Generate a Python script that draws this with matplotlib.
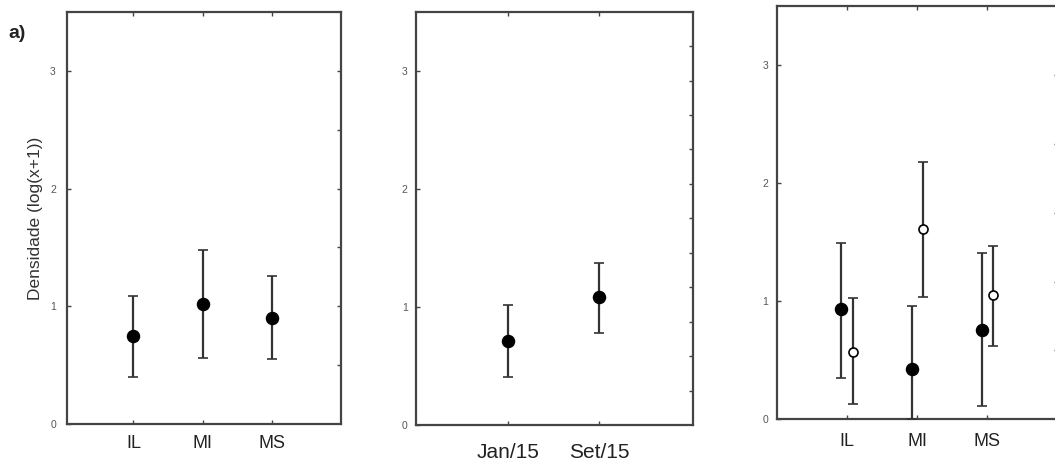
import numpy as np
import matplotlib
matplotlib.use("Agg")
import matplotlib.pyplot as plt

plt.rcParams['font.family'] = ['Liberation Sans', 'DejaVu Sans']

# panel a) - site
sites = ['IL', 'MI', 'MS']
site_mean = [0.75, 1.02, 0.90]
site_low = [0.40, 0.56, 0.55]
site_high = [1.09, 1.48, 1.26]

# panel b) - campaign
months = ['Jan/15', 'Set/15']
month_mean = [0.71, 1.08]
month_low = [0.41, 0.78]
month_high = [1.02, 1.37]

# panel c) - site x campaign (filled = Jan/15, open = Set/15)
jan_mean = [0.93, 0.43, 0.76]
jan_low = [0.35, 0.00, 0.11]
jan_high = [1.49, 0.96, 1.41]
set_mean = [0.57, 1.61, 1.05]
set_low = [0.13, 1.04, 0.62]
set_high = [1.03, 2.18, 1.47]

edge = '#444444'
barc = '#333333'
lab_c = '#555555'


def style_axes(ax, ylab_pad):
    for s in ax.spines.values():
        s.set_linewidth(1.6)
        s.set_color(edge)
    ax.set_ylim(0, 3.5)
    ax.set_yticks([0, 1, 2, 3])
    ax.tick_params(axis='y', direction='in', length=3, width=1, colors=edge,
                   labelcolor=lab_c, labelsize=7.5, pad=ylab_pad, left=True, right=False)
    ax.tick_params(axis='x', direction='in', length=3, width=1, colors=edge,
                   labelcolor='#222222', top=True, bottom=True)


def draw(ax, x, mean, low, high, filled=True, ms=8.5):
    mean = np.array(mean)
    err = [mean - np.array(low), np.array(high) - mean]
    ax.errorbar(x, mean, yerr=err, fmt='o', color=barc, ecolor=barc, elinewidth=1.6,
                capsize=3.5, capthick=1.5, markersize=ms,
                markerfacecolor='black' if filled else 'white',
                markeredgecolor='black', markeredgewidth=1.2, zorder=3)


def right_ticks(ax, n):
    tw = ax.twinx()
    tw.set_ylim(0, n)
    tw.set_yticks(np.arange(1, n))
    tw.tick_params(axis='y', direction='in', length=3, width=1, colors=edge, labelright=False)
    for s in tw.spines.values():
        s.set_visible(False)
    return tw


fig = plt.figure(figsize=(10.55, 4.62), dpi=100)

# panel a)
ax1 = fig.add_axes([0.0635, 0.0823, 0.2597, 0.8918])
x1 = np.arange(1, len(sites) + 1)
draw(ax1, x1, site_mean, site_low, site_high)
ax1.set_xlim(0.04, 4.0)
ax1.set_xticks(x1)
ax1.set_xticklabels(sites, fontsize=13)
style_axes(ax1, 8)
ax1.tick_params(axis='x', pad=8)
ax1.set_ylabel('Densidade (log(x+1))', fontsize=12.5, color='#333333', labelpad=5)
right_ticks(ax1, 7)
fig.text(0.008, 0.918, 'a)', fontsize=14, fontweight='bold', color='#222222')

# panel b)
ax2 = fig.add_axes([0.3943, 0.0801, 0.2623, 0.8946])
x2 = np.arange(1, len(months) + 1)
draw(ax2, x2, month_mean, month_low, month_high)
ax2.set_xlim(0, 3.02)
ax2.set_xticks(x2)
ax2.set_xticklabels(months, fontsize=15)
style_axes(ax2, 6)
ax2.tick_params(axis='x', pad=13)
right_ticks(ax2, 12)

# panel c)
ax3 = fig.add_axes([0.7362, 0.0924, 0.2663, 0.8946])
x3 = np.arange(1, len(sites) + 1)
draw(ax3, x3 - 0.08, jan_mean, jan_low, jan_high)
draw(ax3, x3 + 0.08, set_mean, set_low, set_high, filled=False, ms=6.5)
ax3.set_xlim(0.0, 4.0)
ax3.set_xticks(x3)
ax3.set_xticklabels(sites, fontsize=13)
style_axes(ax3, 6)
ax3.tick_params(axis='x', pad=10)
right_ticks(ax3, 6)

fig.savefig('out.png', dpi=100)
